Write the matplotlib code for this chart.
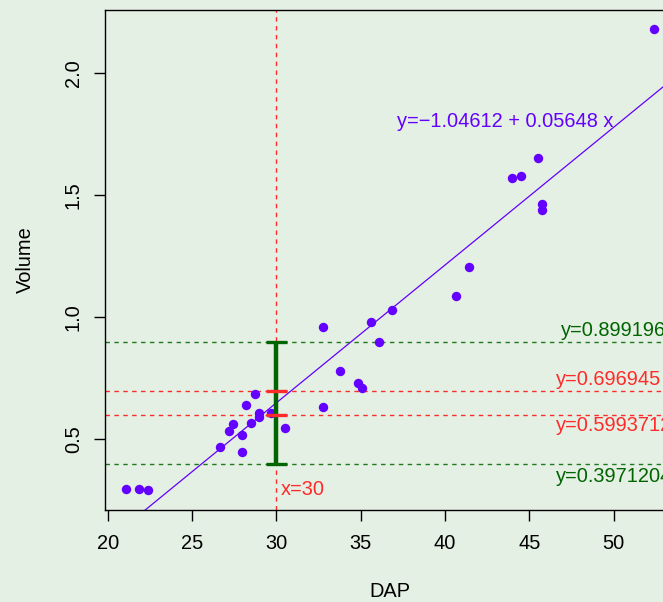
import numpy as np
import matplotlib.pyplot as plt

plt.rcParams['font.family'] = ['Liberation Sans', 'DejaVu Sans']

# tree data
dap = [21.07, 21.84, 22.37, 26.68, 27.19, 27.45, 27.96, 27.96, 28.22, 28.48,
       28.71, 28.96, 28.96, 29.70, 30.51, 32.78, 32.76, 33.80, 34.82, 35.06,
       35.59, 36.06, 36.85, 40.67, 41.44, 43.97, 44.50, 45.53, 45.75, 45.75,
       52.37]
volume = [0.294, 0.294, 0.291, 0.466, 0.533, 0.560, 0.516, 0.445, 0.641, 0.564,
          0.684, 0.608, 0.592, 0.605, 0.543, 0.959, 0.630, 0.777, 0.730, 0.709,
          0.978, 0.898, 1.029, 1.086, 1.206, 1.568, 1.577, 1.650, 1.463, 1.440,
          2.179]

intercept = -1.04612
slope = 0.05648
x_new = 30
conf_int = [0.5993712, 0.6969450]   # confidence interval (red)
pred_int = [0.3971204, 0.8991963]   # prediction interval (green)

bg = '#e5f0e4'
purple = '#6300ff'
red = '#ff2a2a'
dgreen = '#006400'
fs = 14.4

fig = plt.figure(figsize=(6.63, 6.02), dpi=100, facecolor=bg)
ax = fig.add_axes([105 / 663, 92 / 602, 570 / 663, 500 / 602], facecolor=bg)

ax.set_xlim(19.84, 53.63)
ax.set_ylim(0.209, 2.258)

ax.scatter(dap, volume, s=46, color=purple, zorder=3, linewidths=0)

# fitted line across the whole plot
xl = np.array(ax.get_xlim())
ax.plot(xl, intercept + slope * xl, color=purple, lw=0.9, zorder=2)
ax.text(37.13, 1.803, 'y=\u22121.04612 + 0.05648 x', color=purple, fontsize=fs,
        va='center', ha='left')

# reference lines
ax.axvline(x_new, color=red, lw=1, dashes=(3.2, 3.2))
for v in conf_int:
    ax.axhline(v, color=red, lw=1, dashes=(3.2, 3.2))
for v in pred_int:
    ax.axhline(v, color='#1f7a1f', lw=1, dashes=(3.2, 3.2))

# interval bars at x = 30
cap = 0.62
ax.vlines(x_new, pred_int[0], pred_int[1], color=dgreen, lw=3.2, zorder=4)
ax.hlines(pred_int, x_new - cap, x_new + cap, color=dgreen, lw=2.4, zorder=4)
ax.hlines(conf_int, x_new - cap, x_new + cap, color=red, lw=2.4, zorder=4)

ax.text(x_new + 0.26, 0.291, 'x=30', color=red, fontsize=fs, va='center', ha='left')

labels = [(pred_int[1], 46.9, 8, dgreen), (conf_int[1], 46.6, 8.5, red),
          (conf_int[0], 46.6, -8, red), (pred_int[0], 46.6, -9, dgreen)]
for v, xt, off, c in labels:
    ax.annotate('y=%.7g' % v, xy=(xt, v), xytext=(0, off), textcoords='offset points',
                color=c, fontsize=fs, va='center', ha='left')

ax.set_xticks([20, 25, 30, 35, 40, 45, 50])
ax.set_yticks([0.5, 1.0, 1.5, 2.0])
ax.set_yticklabels(['0.5', '1.0', '1.5', '2.0'], rotation=90, va='center')
ax.tick_params(direction='out', length=8, width=1, labelsize=fs, colors='black')
ax.tick_params(axis='x', pad=9)
ax.tick_params(axis='y', pad=8)
for s in ax.spines.values():
    s.set_color('black')
    s.set_linewidth(1)

ax.set_xlabel('DAP', fontsize=fs, labelpad=21)
ax.set_ylabel('Volume', fontsize=fs, labelpad=21)

fig.savefig('out.png', dpi=100, facecolor=bg)
